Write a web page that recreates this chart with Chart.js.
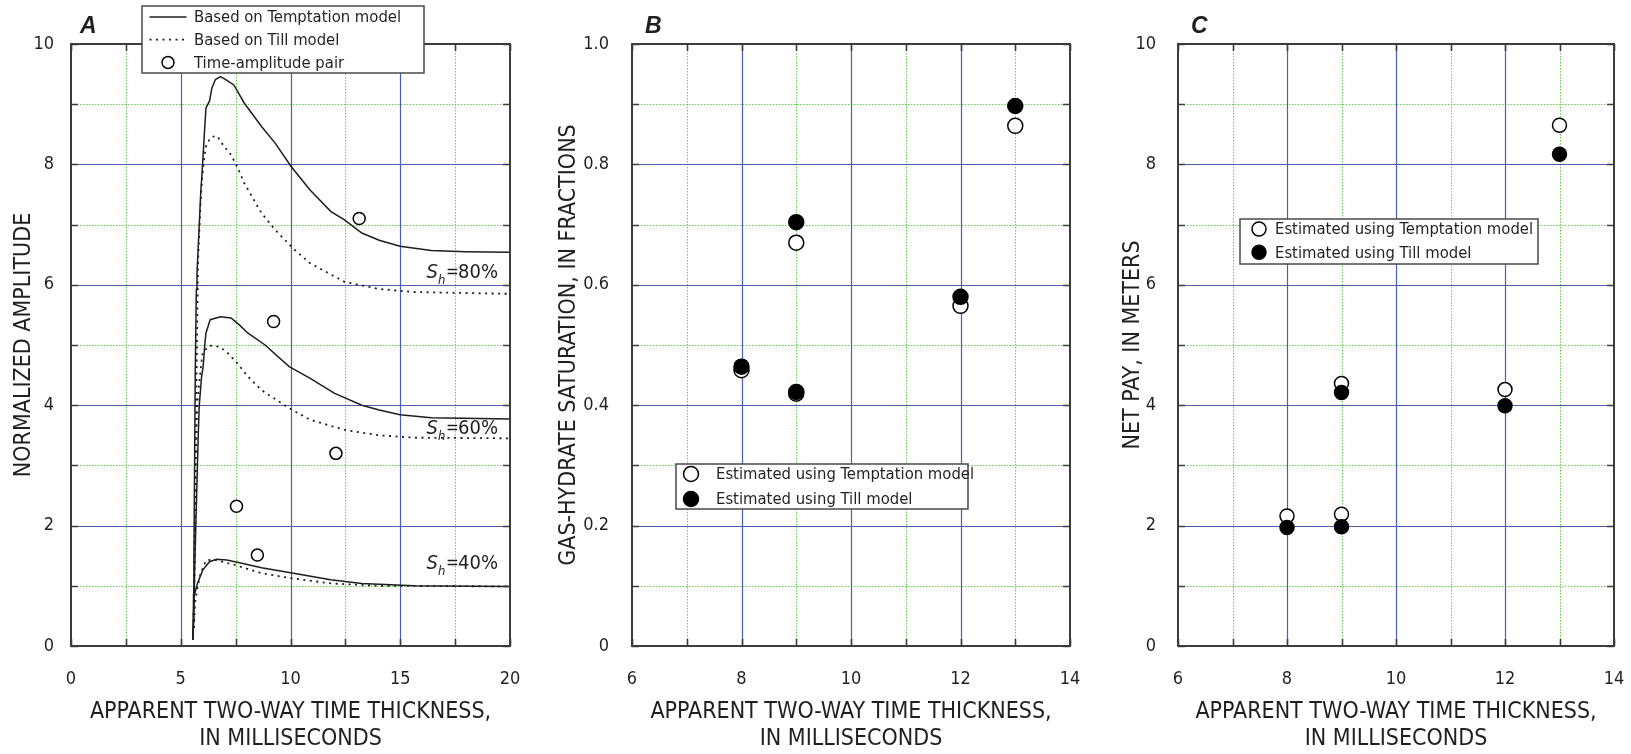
<!DOCTYPE html>
<html>
<head>
<meta charset="utf-8">
<script src="https://cdn.jsdelivr.net/npm/chart.js@4.4.1/dist/chart.umd.min.js"></script>
<style>
  html, body { margin: 0; padding: 0; background: #fff; }
  body { width: 1631px; height: 754px; position: relative; overflow: hidden; }
  canvas { position: absolute; top: 0; }
</style>
</head>
<body>
<canvas id="ampChart" width="540" height="754" style="left:0px"></canvas>
<canvas id="satChart" width="545" height="754" style="left:540px"></canvas>
<canvas id="payChart" width="546" height="754" style="left:1085px"></canvas>
<script>
// ---- panel A: normalized amplitude vs apparent time thickness ----
const tempt80X = [5.55, 5.58, 5.6, 5.63, 5.66, 5.71, 5.74, 5.84, 5.91, 5.99, 6.07, 6.15, 6.31, 6.42, 6.58, 6.81, 7.05, 7.42, 7.89, 8.68, 9.31, 10.02, 10.88, 11.83, 12.46, 13.25, 14.04, 14.99, 16.41, 17.98, 20];
const tempt80Y = [0.1, 0.6, 1.5, 3.0, 4.5, 5.92, 6.19, 6.97, 7.52, 7.97, 8.47, 8.94, 9.05, 9.27, 9.41, 9.46, 9.41, 9.32, 9.02, 8.63, 8.35, 7.97, 7.58, 7.22, 7.08, 6.86, 6.74, 6.64, 6.57, 6.55, 6.54];
const till80X = [5.6, 5.65, 5.72, 5.79, 5.9, 5.98, 6.06, 6.15, 6.34, 6.55, 6.66, 6.97, 7.29, 7.6, 7.89, 8.68, 9.31, 10.1, 10.88, 12.46, 14.04, 15.62, 20];
const till80Y = [0.3, 2.0, 4.5, 6.41, 7.36, 7.8, 8.08, 8.3, 8.44, 8.47, 8.47, 8.3, 8.16, 7.94, 7.69, 7.19, 6.91, 6.61, 6.36, 6.05, 5.93, 5.88, 5.85];
const tempt60X = [5.55, 5.6, 5.63, 5.71, 5.79, 5.84, 5.95, 6.02, 6.1, 6.15, 6.34, 6.81, 7.29, 7.68, 8.05, 8.84, 9.94, 10.88, 11.99, 13.25, 14.04, 14.99, 16.41, 20];
const tempt60Y = [0.1, 0.65, 1.21, 2.31, 3.42, 3.98, 4.48, 4.64, 5.03, 5.2, 5.42, 5.47, 5.45, 5.33, 5.2, 5.0, 4.64, 4.45, 4.2, 4.0, 3.92, 3.84, 3.79, 3.77];
const till60X = [5.58, 5.62, 5.68, 5.75, 5.85, 5.92, 6.0, 6.31, 6.78, 7.1, 7.57, 8.05, 8.68, 9.94, 10.88, 12.46, 14.04, 15.62, 20];
const till60Y = [0.3, 1.5, 3.0, 4.0, 4.4, 4.64, 4.88, 4.99, 4.97, 4.88, 4.7, 4.48, 4.25, 3.95, 3.76, 3.59, 3.5, 3.46, 3.45];
const tempt40X = [5.55, 5.6, 5.58, 5.62, 5.66, 5.76, 6.0, 6.31, 6.63, 7.1, 7.73, 8.68, 9.94, 11.83, 13.25, 15.62, 20];
const tempt40Y = [0.1, 0.5, 0.85, 0.95, 0.9, 1.04, 1.26, 1.4, 1.44, 1.43, 1.38, 1.3, 1.22, 1.1, 1.04, 1.0, 0.99];
const till40X = [5.6, 5.65, 5.75, 5.9, 6.15, 6.47, 7.42, 8.68, 9.94, 11.83, 14.04, 20];
const till40Y = [0.3, 0.7, 0.95, 1.2, 1.42, 1.44, 1.35, 1.21, 1.13, 1.04, 1.0, 0.99];
const pairX = [13.13, 9.23, 12.07, 7.54, 8.49];
const pairY = [7.1, 5.39, 3.2, 2.32, 1.51];
const satLevels = ['80%', '60%', '40%'];
const satLevelY = [6.12, 3.52, 1.28];

// ---- panels B and C: estimates per well ----
const wellTimes = [8, 9, 9, 12, 13];
const satTemptation = [0.458, 0.67, 0.419, 0.565, 0.864];
const satTill = [0.464, 0.704, 0.422, 0.58, 0.897];
const payTemptation = [2.16, 4.36, 2.19, 4.26, 8.65];
const payTill = [1.97, 4.21, 1.98, 3.99, 8.17];

// tick values
const ampTimeTicks = [0, 5, 10, 15, 20];
const ampTicks = [0, 2, 4, 6, 8, 10];
const wellTimeTicks = [6, 8, 10, 12, 14];
const satTicks = [0, 0.2, 0.4, 0.6, 0.8, 1.0];
const satTickLabels = ['0', '0.2', '0.4', '0.6', '0.8', '1.0'];
const payTicks = [0, 2, 4, 6, 8, 10];

const FONT = "'Liberation Sans Narrow', 'Arial Narrow', 'DejaVu Sans Condensed', sans-serif";
const INK = '#231f20';
const TIME_TITLE = ['APPARENT TWO-WAY TIME THICKNESS,', 'IN MILLISECONDS'];

const zip = (xs, ys) => xs.map((x, i) => ({x, y: ys[i]}));

// grid drawn by hand: blue major lines, green dotted minor lines, inward ticks and frame
const paperGrid = {
  id: 'paperGrid',
  beforeDatasetsDraw(chart) {
    const {ctx, chartArea: a, scales: {x, y}} = chart;
    const xs = x.ticks.map(t => t.value), ys = y.ticks.map(t => t.value);
    const mid = v => v.slice(1).map((b, i) => (v[i] + b) / 2);
    const crisp = p => Math.round(p) + 0.5;
    ctx.save();
    ctx.lineWidth = 1;
    ctx.strokeStyle = '#63cf4f';
    ctx.setLineDash([1.5, 1.5]);
    ctx.beginPath();
    mid(xs).forEach(v => { const p = crisp(x.getPixelForValue(v)); ctx.moveTo(p, a.top); ctx.lineTo(p, a.bottom); });
    mid(ys).forEach(v => { const p = crisp(y.getPixelForValue(v)); ctx.moveTo(a.left, p); ctx.lineTo(a.right, p); });
    ctx.stroke();
    ctx.setLineDash([]);
    ctx.strokeStyle = '#4c5fb4';
    ctx.lineWidth = 1.2;
    ctx.beginPath();
    xs.slice(1, -1).forEach(v => { const p = crisp(x.getPixelForValue(v)); ctx.moveTo(p, a.top); ctx.lineTo(p, a.bottom); });
    ys.slice(1, -1).forEach(v => { const p = crisp(y.getPixelForValue(v)); ctx.moveTo(a.left, p); ctx.lineTo(a.right, p); });
    ctx.stroke();
    ctx.restore();
  },
  afterDatasetsDraw(chart) {
    const {ctx, chartArea: a, scales: {x, y}} = chart;
    const xs = x.ticks.map(t => t.value), ys = y.ticks.map(t => t.value);
    const all = v => v.concat(v.slice(1).map((b, i) => (v[i] + b) / 2));
    const len = 7;
    ctx.save();
    ctx.strokeStyle = '#3c3c3c';
    ctx.lineWidth = 1.6;
    ctx.beginPath();
    all(xs).forEach(v => {
      const p = Math.round(x.getPixelForValue(v)) + 0.5;
      ctx.moveTo(p, a.bottom); ctx.lineTo(p, a.bottom - len);
      ctx.moveTo(p, a.top); ctx.lineTo(p, a.top + len);
    });
    all(ys).forEach(v => {
      const p = Math.round(y.getPixelForValue(v)) + 0.5;
      ctx.moveTo(a.left, p); ctx.lineTo(a.left + len, p);
      ctx.moveTo(a.right, p); ctx.lineTo(a.right - len, p);
    });
    ctx.stroke();
    ctx.lineWidth = 2;
    ctx.strokeRect(a.left, a.top, a.right - a.left, a.bottom - a.top);
    ctx.restore();
  }
};

// boxed legend placed on the canvas, markers copied from the datasets
const boxLegend = {
  id: 'boxLegend',
  afterDraw(chart, args, o) {
    if (!o.items) return;
    const ctx = chart.ctx;
    ctx.save();
    ctx.fillStyle = '#fff';
    ctx.fillRect(o.left, o.top, o.width, o.height);
    ctx.strokeStyle = '#4a4a4a';
    ctx.lineWidth = 1.5;
    ctx.strokeRect(o.left, o.top, o.width, o.height);
    o.items.forEach((idx, i) => {
      const ds = chart.data.datasets[idx];
      const cy = o.top + o.firstRow + i * o.rowGap;
      if (ds.showLine) {
        ctx.strokeStyle = ds.borderColor;
        ctx.lineWidth = ds.borderWidth;
        ctx.setLineDash(ds.borderDash || []);
        ctx.beginPath();
        ctx.moveTo(o.markerX - o.lineHalf, cy);
        ctx.lineTo(o.markerX + o.lineHalf, cy);
        ctx.stroke();
        ctx.setLineDash([]);
      } else {
        ctx.beginPath();
        ctx.arc(o.markerX, cy, ds.pointRadius, 0, Math.PI * 2);
        ctx.fillStyle = ds.pointBackgroundColor;
        ctx.fill();
        ctx.strokeStyle = ds.pointBorderColor;
        ctx.lineWidth = ds.pointBorderWidth;
        ctx.stroke();
      }
      ctx.fillStyle = INK;
      ctx.font = `16.5px ${FONT}`;
      ctx.textBaseline = 'middle';
      ctx.textAlign = 'left';
      ctx.fillText(ds.label, o.textX, cy + 1);
    });
    ctx.restore();
  }
};

// panel letter above the frame
const panelTag = {
  id: 'panelTag',
  afterDraw(chart, args, o) {
    const ctx = chart.ctx;
    ctx.save();
    ctx.fillStyle = INK;
    ctx.font = "italic bold 23px 'Liberation Sans', Arial, sans-serif";
    ctx.textBaseline = 'alphabetic';
    ctx.fillText(o.text, chart.chartArea.left + o.dx, chart.chartArea.top - 11);
    ctx.restore();
  }
};

// "Sh = nn%" tags beside the amplitude curves
const satTags = {
  id: 'satTags',
  afterDatasetsDraw(chart, args, o) {
    if (!o.labels) return;
    const {ctx, scales: {x, y}} = chart;
    ctx.save();
    ctx.fillStyle = INK;
    ctx.textBaseline = 'alphabetic';
    o.labels.forEach((txt, i) => {
      const px = x.getPixelForValue(o.x);
      const py = y.getPixelForValue(o.y[i]);
      ctx.font = `italic 20px ${FONT}`;
      ctx.fillText('S', px, py);
      const w = ctx.measureText('S').width;
      ctx.font = `italic 13px ${FONT}`;
      ctx.fillText('h', px + w, py + 6);
      ctx.font = `17px ${FONT}`;
      ctx.fillText('=', px + w + 8, py - 1);
      ctx.font = `20px ${FONT}`;
      ctx.fillText(txt, px + w + 20, py);
    });
    ctx.restore();
  }
};

function axis(min, max, ticks, opt) {
  return {
    type: 'linear', min, max,
    afterBuildTicks: s => { s.ticks = ticks.map(v => ({value: v})); },
    afterFit: s => {
      opt.fit(s);
      // keep the plot frame where the layout padding puts it
      s.paddingLeft = s.paddingRight = 0;
      s.paddingTop = s.paddingBottom = 0;
    },
    grid: {display: false},
    border: {display: false},
    ticks: {
      color: INK, autoSkip: false, maxRotation: 0, padding: opt.pad,
      font: {family: FONT, size: 18},
      callback: opt.labels ? (v => opt.labels[ticks.indexOf(v)] ?? '') : (v => String(v))
    },
    title: {
      display: true, text: opt.title, color: INK,
      font: {family: FONT, size: 23, lineHeight: 1.17},
      padding: opt.titlePad
    }
  };
}

const lineStyle = (label, xs, ys, dotted) => ({
  label, data: zip(xs, ys), showLine: true, pointRadius: 0,
  borderColor: '#1e1e1e', borderWidth: dotted ? 1.8 : 1.5,
  borderDash: dotted ? [2, 4.5] : undefined, tension: 0
});

const pointStyle = (label, xs, ys, filled, r, order) => ({
  label, data: zip(xs, ys), showLine: false, order,
  pointRadius: r, pointHoverRadius: r,
  pointBackgroundColor: filled ? '#000' : '#fff',
  pointBorderColor: '#000', pointBorderWidth: 1.5
});

const base = {
  responsive: false, animation: false,
  events: [],
  plugins: {legend: {display: false}, tooltip: {enabled: false}}
};

const timeAxis = (min, max, ticks) =>
  axis(min, max, ticks, {fit: s => { s.height = 108; }, pad: 15, title: TIME_TITLE, titlePad: {top: 0, bottom: 2}});

new Chart(document.getElementById('ampChart'), {
  type: 'scatter',
  data: {
    datasets: [
      lineStyle('Based on Temptation model', tempt80X, tempt80Y, false),
      lineStyle('Based on Till model', till80X, till80Y, true),
      lineStyle('Based on Temptation model', tempt60X, tempt60Y, false),
      lineStyle('Based on Till model', till60X, till60Y, true),
      lineStyle('Based on Temptation model', tempt40X, tempt40Y, false),
      lineStyle('Based on Till model', till40X, till40Y, true),
      pointStyle('Time-amplitude pair', pairX, pairY, false, 6, -1)
    ]
  },
  options: {
    ...base,
    layout: {padding: {left: 0, top: 44, right: 30, bottom: 0}},
    scales: {
      x: timeAxis(0, 20, ampTimeTicks),
      y: axis(0, 10, ampTicks, {fit: s => { s.width = 71; }, pad: 9, title: 'NORMALIZED AMPLITUDE', titlePad: {top: 11, bottom: 0}})
    },
    plugins: {
      ...base.plugins,
      boxLegend: {items: [0, 1, 6], left: 142, top: 6, width: 282, height: 67, firstRow: 11, rowGap: 22.7, markerX: 168, lineHalf: 18.5, textX: 194},
      panelTag: {text: 'A', dx: 9},
      satTags: {labels: satLevels, x: 16.2, y: satLevelY}
    }
  },
  plugins: [paperGrid, boxLegend, panelTag, satTags]
});

new Chart(document.getElementById('satChart'), {
  type: 'scatter',
  data: {
    datasets: [
      pointStyle('Estimated using Temptation model', wellTimes, satTemptation, false, 7.5, 2),
      pointStyle('Estimated using Till model', wellTimes, satTill, true, 7.5, 1)
    ]
  },
  options: {
    ...base,
    layout: {padding: {left: 0, top: 44, right: 15, bottom: 0}},
    scales: {
      x: timeAxis(6, 14, wellTimeTicks),
      y: axis(0, 1, satTicks, {fit: s => { s.width = 92; }, pad: 15, labels: satTickLabels, title: 'GAS-HYDRATE SATURATION, IN FRACTIONS', titlePad: {top: 16, bottom: 0}})
    },
    plugins: {
      ...base.plugins,
      boxLegend: {items: [0, 1], left: 136, top: 464, width: 292, height: 45, firstRow: 10, rowGap: 25, markerX: 151, textX: 176},
      panelTag: {text: 'B', dx: 13}
    }
  },
  plugins: [paperGrid, boxLegend, panelTag]
});

new Chart(document.getElementById('payChart'), {
  type: 'scatter',
  data: {
    datasets: [
      pointStyle('Estimated using Temptation model', wellTimes, payTemptation, false, 7, 2),
      pointStyle('Estimated using Till model', wellTimes, payTill, true, 7, 1)
    ]
  },
  options: {
    ...base,
    layout: {padding: {left: 0, top: 44, right: 17, bottom: 0}},
    scales: {
      x: timeAxis(6, 14, wellTimeTicks),
      y: axis(0, 10, payTicks, {fit: s => { s.width = 93; }, pad: 14, title: 'NET PAY, IN METERS', titlePad: {top: 34.5, bottom: 0}})
    },
    plugins: {
      ...base.plugins,
      boxLegend: {items: [0, 1], left: 155, top: 219, width: 298, height: 45, firstRow: 10, rowGap: 23.3, markerX: 174, textX: 190},
      panelTag: {text: 'C', dx: 13}
    }
  },
  plugins: [paperGrid, boxLegend, panelTag]
});
</script>
</body>
</html>
